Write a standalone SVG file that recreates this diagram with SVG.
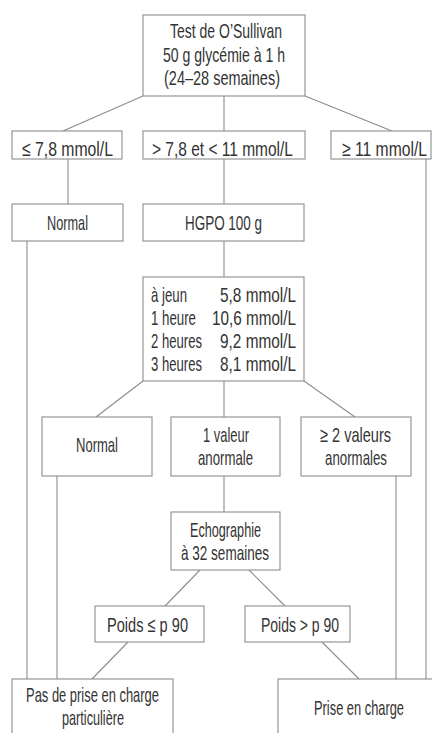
<svg xmlns="http://www.w3.org/2000/svg" width="432" height="733" viewBox="0 0 432 733">
<style>
rect.b{fill:#fff;stroke:#8c8c8c;stroke-width:1.1}
#edges line{stroke:#8c8c8c;stroke-width:1.1}
text{font-family:"Liberation Sans",Arial,sans-serif;font-size:21px;fill:#333}
.m{text-anchor:middle}
.e{text-anchor:end}
</style>
<rect width="432" height="733" fill="#fff"/>
<g id="edges">
<line x1="143" y1="96" x2="63" y2="131"/>
<line x1="224" y1="96" x2="224" y2="131"/>
<line x1="305" y1="96" x2="392" y2="131"/>
<line x1="68" y1="159" x2="68" y2="204"/>
<line x1="224" y1="159" x2="224" y2="204"/>
<line x1="426" y1="159" x2="426" y2="679"/>
<line x1="27" y1="241" x2="27" y2="679"/>
<line x1="224" y1="241" x2="224" y2="277"/>
<line x1="143" y1="381" x2="96" y2="417"/>
<line x1="224" y1="381" x2="224" y2="417"/>
<line x1="304" y1="381" x2="355" y2="417"/>
<line x1="57" y1="476" x2="57" y2="679"/>
<line x1="224" y1="476" x2="224" y2="512"/>
<line x1="396" y1="476" x2="396" y2="679"/>
<line x1="200" y1="570" x2="165" y2="606"/>
<line x1="249" y1="570" x2="285" y2="606"/>
<line x1="128" y1="642" x2="92" y2="679"/>
<line x1="322" y1="642" x2="359" y2="679"/>
</g>
<g id="n-test">
<rect class="b" x="143" y="15" width="162" height="81"/>
<text class="m" x="226" y="38" textLength="112" lengthAdjust="spacingAndGlyphs">Test de O’Sullivan</text>
<text class="m" x="224" y="62" textLength="122" lengthAdjust="spacingAndGlyphs">50 g glycémie à 1 h</text>
<text class="m" x="222" y="85" textLength="116" lengthAdjust="spacingAndGlyphs">(24–28 semaines)</text>
</g>
<g id="n-le78">
<rect class="b" x="12" y="131" width="110" height="28"/>
<text class="m" x="67.5" y="156" textLength="91" lengthAdjust="spacingAndGlyphs">≤ 7,8 mmol/L</text>
</g>
<g id="n-mid">
<rect class="b" x="143" y="131" width="162" height="28"/>
<text class="m" x="222.5" y="156" textLength="141" lengthAdjust="spacingAndGlyphs">&gt; 7,8 et &lt; 11 mmol/L</text>
</g>
<g id="n-ge11">
<rect class="b" x="331" y="131" width="100" height="28"/>
<text class="m" x="384.5" y="156" textLength="85" lengthAdjust="spacingAndGlyphs">≥ 11 mmol/L</text>
</g>
<g id="n-normal1">
<rect class="b" x="12" y="204" width="111" height="37"/>
<text class="m" x="67.5" y="230" textLength="41" lengthAdjust="spacingAndGlyphs">Normal</text>
</g>
<g id="n-hgpo">
<rect class="b" x="143" y="204" width="161" height="37"/>
<text class="m" x="223.5" y="230" textLength="77" lengthAdjust="spacingAndGlyphs">HGPO 100 g</text>
</g>
<g id="n-results">
<rect class="b" x="143" y="277" width="161" height="104"/>
<text x="151" y="302" textLength="36" lengthAdjust="spacingAndGlyphs">à jeun</text>
<text x="151" y="325" textLength="45" lengthAdjust="spacingAndGlyphs">1 heure</text>
<text x="151" y="348" textLength="51" lengthAdjust="spacingAndGlyphs">2 heures</text>
<text x="151" y="371" textLength="51" lengthAdjust="spacingAndGlyphs">3 heures</text>
<text class="e" x="296" y="302" textLength="76" lengthAdjust="spacingAndGlyphs">5,8 mmol/L</text>
<text class="e" x="296" y="325" textLength="84" lengthAdjust="spacingAndGlyphs">10,6 mmol/L</text>
<text class="e" x="296" y="348" textLength="76" lengthAdjust="spacingAndGlyphs">9,2 mmol/L</text>
<text class="e" x="296" y="371" textLength="76" lengthAdjust="spacingAndGlyphs">8,1 mmol/L</text>
</g>
<g id="n-normal2">
<rect class="b" x="42" y="417" width="110" height="59"/>
<text class="m" x="97" y="452" textLength="42" lengthAdjust="spacingAndGlyphs">Normal</text>
</g>
<g id="n-1val">
<rect class="b" x="171" y="417" width="109" height="59"/>
<text class="m" x="226" y="442" textLength="46" lengthAdjust="spacingAndGlyphs">1 valeur</text>
<text class="m" x="225.5" y="465" textLength="55" lengthAdjust="spacingAndGlyphs">anormale</text>
</g>
<g id="n-2val">
<rect class="b" x="301" y="417" width="110" height="59"/>
<text class="m" x="355.5" y="442" textLength="71" lengthAdjust="spacingAndGlyphs">≥ 2 valeurs</text>
<text class="m" x="356" y="465" textLength="62" lengthAdjust="spacingAndGlyphs">anormales</text>
</g>
<g id="n-echo">
<rect class="b" x="171" y="512" width="109" height="58"/>
<text class="m" x="225.5" y="537" textLength="71" lengthAdjust="spacingAndGlyphs">Echographie</text>
<text class="m" x="225" y="560" textLength="88" lengthAdjust="spacingAndGlyphs">à 32 semaines</text>
</g>
<g id="n-poids-le">
<rect class="b" x="95" y="606" width="109" height="36"/>
<text class="m" x="147.5" y="632" textLength="81" lengthAdjust="spacingAndGlyphs">Poids ≤ p 90</text>
</g>
<g id="n-poids-gt">
<rect class="b" x="245" y="606" width="105" height="36"/>
<text class="m" x="300" y="632" textLength="78" lengthAdjust="spacingAndGlyphs">Poids &gt; p 90</text>
</g>
<g id="n-pas">
<rect class="b" x="12" y="679" width="161" height="70"/>
<text class="m" x="92.5" y="702" textLength="133" lengthAdjust="spacingAndGlyphs">Pas de prise en charge</text>
<text class="m" x="93" y="725" textLength="62" lengthAdjust="spacingAndGlyphs">particulière</text>
</g>
<g id="n-prise">
<rect class="b" x="278" y="679" width="170" height="70"/>
<text class="m" x="359" y="715" textLength="90" lengthAdjust="spacingAndGlyphs">Prise en charge</text>
</g>
</svg>
